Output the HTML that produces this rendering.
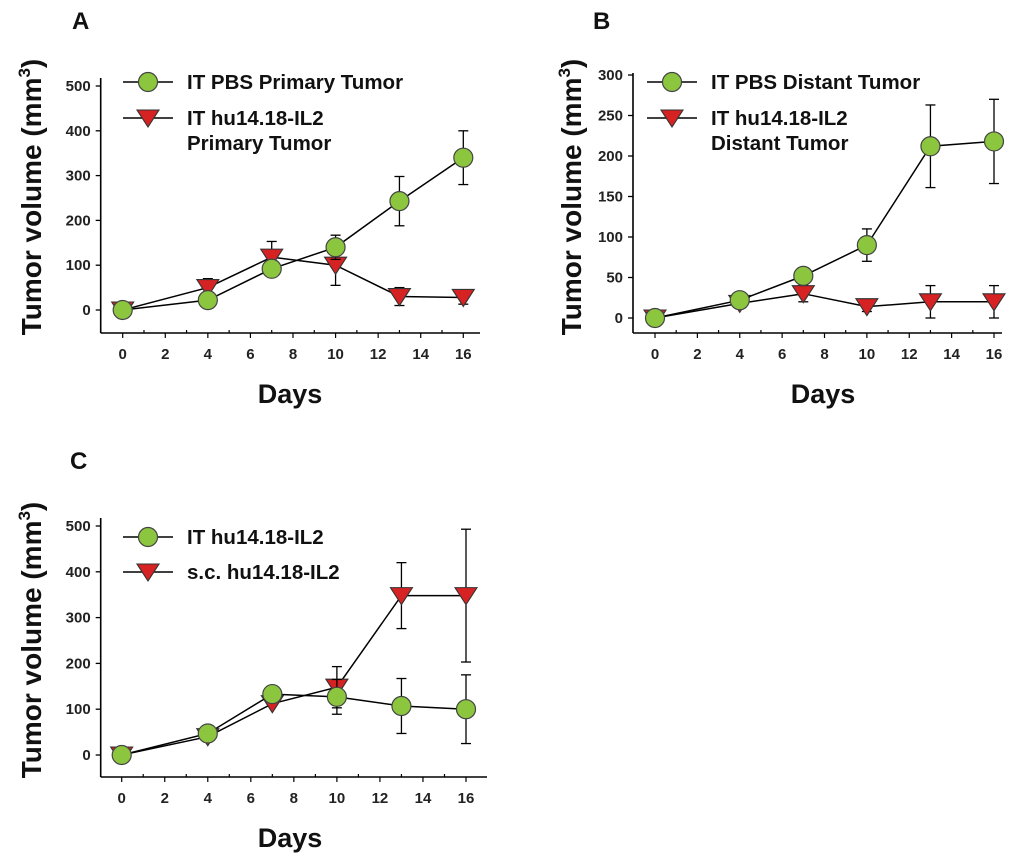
<!DOCTYPE html>
<html><head><meta charset="utf-8"><style>
html,body{margin:0;padding:0;background:#fff;}
svg{display:block;font-family:"Liberation Sans",Arial,sans-serif;font-weight:bold;}
</style></head><body>
<svg id="fig" width="1024" height="859" viewBox="0 0 1024 859"></svg>
<script>
const days = [0,4,7,10,13,16];
const xTicks = [0,2,4,6,8,10,12,14,16];
const aPbs = [0,22,92,140,243,340];
const aPbsErr = [0,0,0,27,55,60];
const aIl2 = [0,50,118,100,30,28];
const aIl2Err = [0,20,35,45,20,15];
const aTicks = [0,100,200,300,400,500];
const bPbs = [0,22,52,90,212,218];
const bPbsErr = [0,0,10,20,51,52];
const bIl2 = [0,18,30,14,20,20];
const bIl2Err = [0,5,10,6,20,20];
const bTicks = [0,50,100,150,200,250,300];
const cIt = [0,47,133,127,107,100];
const cItErr = [0,0,0,38,60,75];
const cSc = [0,40,112,148,348,348];
const cScErr = [0,0,0,45,72,145];
const cTicks = [0,100,200,300,400,500];

const NS='http://www.w3.org/2000/svg';
const svg=document.getElementById('fig');
function el(tag,attrs,parent,text){const e=document.createElementNS(NS,tag);for(const k in attrs)e.setAttribute(k,attrs[k]);if(text!==undefined)e.textContent=text;(parent||svg).appendChild(e);return e;}

function panel(cfg){
  const g=el('g',{});
  
  
  const xs=d=>cfg.x0+(d-0)*(cfg.x16-cfg.x0)/16;
  const ys=v=>cfg.y0-(v-0)*(cfg.y0-cfg.yTop)/cfg.yMaxTick;
  const ya=el('line',{x1:cfg.ax,y1:cfg.axTop,x2:cfg.ax,y2:cfg.axY,stroke:'#000','stroke-width':1.6},g);
  
  
  const xa=el('line',{x1:cfg.ax,y1:cfg.axY,x2:cfg.axEnd,y2:cfg.axY,stroke:'#000','stroke-width':1.6},g);
  
  
  cfg.yt.forEach(v=>{
    const y=ys(v);
    el('line',{x1:cfg.ax-5,y1:y,x2:cfg.ax,y2:y,stroke:'#000','stroke-width':1.3},g);
    const t=el('text',{x:cfg.ax-10,y:y+5,'text-anchor':'end','font-size':15,fill:'#222'},g,String(v));
    
    
  });
  for(let d=0;d<=17;d++){
    const x=xs(d); if(x>cfg.axEnd) break;
    el('line',{x1:x,y1:cfg.axY,x2:x,y2:cfg.axY+(d%2===0?5:-3),stroke:'#000','stroke-width':1.2},g);
  }
  xTicks.forEach(d=>{
    const t=el('text',{x:xs(d),y:cfg.axY+26,'text-anchor':'middle','font-size':15,fill:'#222'},g,String(d));
    
    
  });
  const xt=el('text',{x:cfg.daysX,y:cfg.axY+70,'text-anchor':'middle','font-size':27,fill:'#111'},g,'Days');
  
  
  const yt=el('text',{x:0,y:0,'text-anchor':'middle','font-size':28,fill:'#111',transform:`translate(${cfg.ytX},${cfg.ytY}) rotate(-90)`},g);
  
  
  yt.appendChild(document.createTextNode('Tumor volume (mm'));
  el('tspan',{'font-size':17,dy:-11},yt,'3');
  el('tspan',{dy:11},yt,')');
  const pl=el('text',{x:cfg.letterX,y:cfg.letterY,'font-size':24,fill:'#111'},g,cfg.letter);
  
  

  function circle(x,y,p){return el('circle',{cx:x,cy:y,r:9.5,fill:'#8cc63f',stroke:'#444','stroke-width':1.2},p);}
  function tri(x,y,p){return el('polygon',{points:`${x-11},${y-8} ${x+11},${y-8} ${x},${y+9}`,fill:'#d62222',stroke:'#333','stroke-width':1.1},p);}

  function series(vals,errs,shape,name){
    const sg=el('g',{},g);
    
    
    vals.forEach((v,i)=>{ if(errs[i]>0){const x=xs(days[i]);
      el('line',{x1:x,y1:ys(v+errs[i]),x2:x,y2:ys(v-errs[i]),stroke:'#000','stroke-width':1.3},sg);
      el('line',{x1:x-5,y1:ys(v+errs[i]),x2:x+5,y2:ys(v+errs[i]),stroke:'#000','stroke-width':1.3},sg);
      el('line',{x1:x-5,y1:ys(v-errs[i]),x2:x+5,y2:ys(v-errs[i]),stroke:'#000','stroke-width':1.3},sg);}});
    el('polyline',{points:vals.map((v,i)=>xs(days[i])+','+ys(v)).join(' '),fill:'none',stroke:'#000','stroke-width':1.5},sg);
    vals.forEach((v,i)=>{const m=shape==='c'?circle(xs(days[i]),ys(v),sg):tri(xs(days[i]),ys(v),sg);
      
      });
  }
  series(cfg.s2,cfg.e2,'t',cfg.s2name);
  series(cfg.s1,cfg.e1,'c',cfg.s1name);

  const lg=el('g',{},g);
  
  
  cfg.legend.forEach((lines,i)=>{
    const y=cfg.legY[i];
    el('line',{x1:cfg.legX,y1:y,x2:cfg.legX+50,y2:y,stroke:'#000','stroke-width':1.5},lg);
    if(i===0) circle(cfg.legX+25,y,lg); else tri(cfg.legX+25,y,lg);
    lines.forEach((ln,j)=>{
      const t=el('text',{x:cfg.legX+64,y:y+7+j*25,'font-size':20.5,fill:'#111'},lg,ln);
      
      
    });
  });
}

panel({name:'panel-a',letter:'A',letterX:72,letterY:29,x0:122.7,x16:463.3,y0:310,yTop:86,yMaxTick:500,yt:aTicks,
  ax:100.7,axTop:78,axY:333,axEnd:480,daysX:290,ytX:41,ytY:197,
  s1:aPbs,e1:aPbsErr,s1name:'series-it-pbs-primary',s2:aIl2,e2:aIl2Err,s2name:'series-it-hu14-primary',
  legX:123,legY:[82,118],legend:[['IT PBS Primary Tumor'],['IT hu14.18-IL2','Primary Tumor']]});
panel({name:'panel-b',letter:'B',letterX:593,letterY:29,x0:655,x16:994,y0:318,yTop:75,yMaxTick:300,yt:bTicks,
  ax:633,axTop:73,axY:333,axEnd:1002,daysX:823,ytX:581,ytY:197,
  s1:bPbs,e1:bPbsErr,s1name:'series-it-pbs-distant',s2:bIl2,e2:bIl2Err,s2name:'series-it-hu14-distant',
  legX:647,legY:[82,118],legend:[['IT PBS Distant Tumor'],['IT hu14.18-IL2','Distant Tumor']]});
panel({name:'panel-c',letter:'C',letterX:70,letterY:469,x0:121.7,x16:466,y0:755,yTop:526,yMaxTick:500,yt:cTicks,
  ax:100.7,axTop:518,axY:777,axEnd:487,daysX:290,ytX:41,ytY:640,
  s1:cIt,e1:cItErr,s1name:'series-it-hu14',s2:cSc,e2:cScErr,s2name:'series-sc-hu14',
  legX:123,legY:[537,572],legend:[['IT hu14.18-IL2'],['s.c. hu14.18-IL2']]});
</script>
</body></html>
